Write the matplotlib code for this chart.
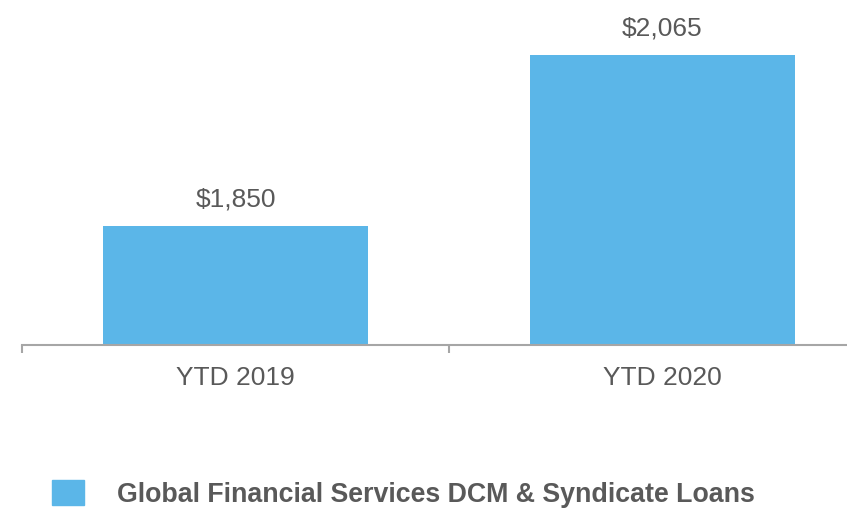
import matplotlib.pyplot as plt
from matplotlib.patches import Patch

# datos del grafico
categorias = ['YTD 2019', 'YTD 2020']
valores = [1850, 2065]
etiquetas = ['$1,850', '$2,065']
serie = 'Global Financial Services DCM & Syndicate Loans'

color_barra = '#5BB6E8'
color_texto = '#595959'
color_eje = '#A6A6A6'

plt.rcParams['font.family'] = ['Liberation Sans', 'DejaVu Sans']

fig = plt.figure(figsize=(8.47, 5.09), dpi=100)
# el eje se sale un poco por la derecha como en la imagen original
ax = fig.add_axes([22 / 847, 164 / 509, 854 / 847, 345 / 509])

x = range(len(categorias))
ax.bar(x, valores, width=0.62, color=color_barra)
ax.set_xlim(-0.5, 1.5)
ax.set_ylim(1700, 2134)

for xi, v, t in zip(x, valores, etiquetas):
    ax.annotate(t, (xi, v), xytext=(0, 10), textcoords='offset points',
                ha='center', va='bottom', fontsize=19, color=color_texto)

for s in ['top', 'right', 'left']:
    ax.spines[s].set_visible(False)
ax.spines['bottom'].set_color(color_eje)
ax.spines['bottom'].set_linewidth(1.5)

ax.set_yticks([])
ax.set_xticks([-0.5, 0.5, 1.5], minor=False)
ax.set_xticklabels([])
ax.tick_params(axis='x', length=6, width=1.5, color=color_eje)
ax.set_xticks(list(x), minor=True)
ax.set_xticklabels(categorias, minor=True)
ax.tick_params(axis='x', which='minor', length=0, pad=15, labelsize=19,
               labelcolor=color_texto)

leyenda = fig.legend(handles=[Patch(color=color_barra, label=serie)],
                     loc='center left', bbox_to_anchor=(0.039, 0.03),
                     frameon=False, handlelength=1.2, handleheight=1.05,
                     handletextpad=1.25, borderpad=0.2,
                     prop={'size': 19.3, 'weight': 'bold'})
for t in leyenda.get_texts():
    t.set_color(color_texto)

fig.savefig('out.png', dpi=100)
